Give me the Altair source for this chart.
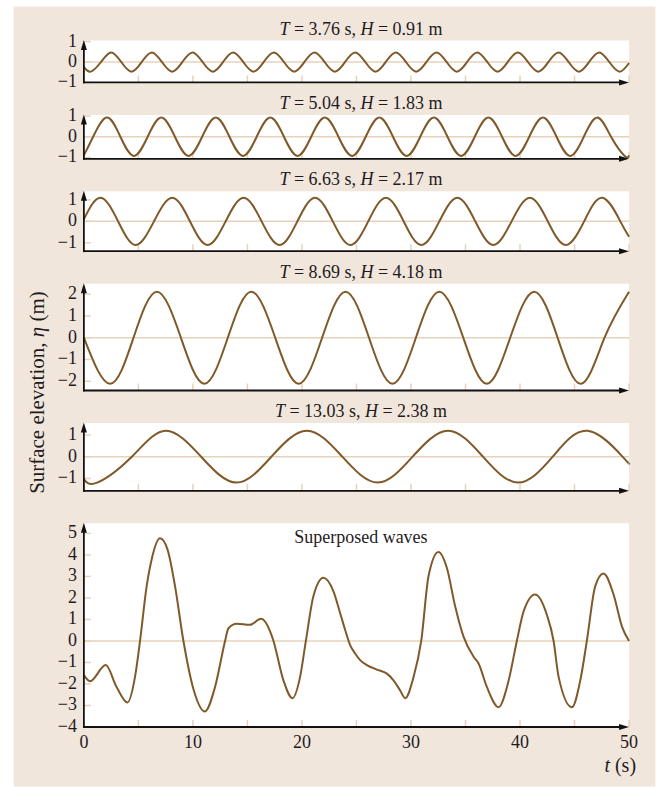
import altair as alt
import pandas as pd

# ---------------- data ----------------
WAVE_PERIOD_LABELS = ["3.76", "5.04", "6.63", "8.69", "13.03"]
WAVE_HEIGHT_LABELS = ["0.91", "1.83", "2.17", "4.18", "2.38"]

# key points (extrema and zero crossings) of each component wave
W1_T = [0, 0.635, 1.57, 2.50, 3.43, 4.37, 5.30, 6.23, 7.16, 8.10, 9.03, 9.96, 10.89,
        11.83, 12.76, 13.69, 14.62, 15.56, 16.49, 17.42, 18.35, 19.29, 20.22, 21.15, 22.08,
        23.02, 23.95, 24.88, 25.81, 26.75, 27.68, 28.61, 29.54, 30.48, 31.41, 32.34, 33.27,
        34.21, 35.14, 36.07, 37.00, 37.94, 38.87, 39.80, 40.73, 41.67, 42.60, 43.53, 44.46,
        45.40, 46.33, 47.26, 48.19, 49.13, 50]
W1_ETA = [-0.24, -0.47, 0, 0.47, 0, -0.47, 0, 0.47, 0, -0.47, 0, 0.47, 0,
          -0.47, 0, 0.47, 0, -0.47, 0, 0.47, 0, -0.47, 0, 0.47, 0,
          -0.47, 0, 0.47, 0, -0.47, 0, 0.47, 0, -0.47, 0, 0.47, 0,
          -0.47, 0, 0.47, 0, -0.47, 0, 0.47, 0, -0.47, 0, 0.47, 0,
          -0.47, 0, 0.47, 0, -0.47, -0.05]

W2_T = [0, 0.85, 2.1, 3.35, 4.6, 5.85, 7.1, 8.35, 9.6, 10.85, 12.1, 13.35, 14.6,
        15.85, 17.1, 18.35, 19.6, 20.85, 22.1, 23.35, 24.6, 25.85, 27.1, 28.35, 29.6,
        30.85, 32.1, 33.35, 34.6, 35.85, 37.1, 38.35, 39.6, 40.85, 42.1, 43.35, 44.6,
        45.85, 47.1, 48.35, 49.6, 50]
W2_ETA = [-0.9, 0, 0.93, 0, -0.93, 0, 0.93, 0, -0.93, 0, 0.93, 0, -0.93,
          0, 0.93, 0, -0.93, 0, 0.93, 0, -0.93, 0, 0.93, 0, -0.93,
          0, 0.93, 0, -0.93, 0, 0.93, 0, -0.93, 0, 0.93, 0, -0.93,
          0, 0.93, 0, -0.93, -0.9]

W3_T = [0, 1.53, 3.14, 4.75, 6.43, 8.1, 9.73, 11.35, 13.0, 14.65, 16.3, 17.95, 19.58,
        21.2, 22.83, 24.45, 26.08, 27.7, 29.33, 30.95, 32.6, 34.25, 35.9, 37.55, 39.23,
        40.9, 42.55, 44.2, 45.88, 47.55, 49.2, 50]
W3_ETA = [0.1, 1.1, 0, -1.1, 0, 1.1, 0, -1.1, 0, 1.1, 0, -1.1, 0,
          1.1, 0, -1.1, 0, 1.1, 0, -1.1, 0, 1.1, 0, -1.1, 0,
          1.1, 0, -1.1, 0, 1.1, 0, -0.72]

W4_T = [0, 2.4, 4.55, 6.7, 8.9, 11.05, 13.2, 15.35, 17.55, 19.7, 21.85, 24.0, 26.15,
        28.3, 30.45, 32.6, 34.8, 36.95, 39.1, 41.3, 43.45, 45.6, 47.75, 50]
W4_ETA = [0, -2.12, 0, 2.12, 0, -2.12, 0, 2.12, 0, -2.12, 0, 2.12, 0,
          -2.12, 0, 2.12, 0, -2.12, 0, 2.12, 0, -2.12, 0, 2.12]

W5_T = [0, 1.22, 4.4, 7.5, 10.75, 14.0, 17.2, 20.45, 23.7, 26.95, 30.15, 33.4, 36.6,
        39.8, 43.0, 46.2, 49.4, 50]
W5_ETA = [-1.03, -1.19, 0, 1.19, 0, -1.19, 0, 1.19, 0, -1.19, 0, 1.19, 0,
          -1.19, 0, 1.19, 0, -0.3]

# superposed record
SUP_T = [0, 0.57, 2.0, 3.0, 3.99, 4.69, 5.15, 5.76, 6.22, 6.99, 7.66, 8.36, 9.13,
         10.04, 11.1, 12.03, 12.95, 13.26, 14.02, 15.24, 16.25, 17.08, 17.39, 18.3,
         19.13, 19.83, 20.36, 21.05, 21.97, 22.89, 23.5, 23.96, 24.42, 24.88, 25.34,
         25.96, 26.87, 27.79, 28.4, 29.01, 29.47, 30.24, 30.94, 31.61, 32.52, 33.29,
         34.05, 34.82, 35.74, 36.2, 36.96, 38.03, 38.96, 39.71, 40.33, 41.39, 42.46,
         43.08, 43.54, 44.76, 45.53, 46.13, 46.9, 47.66, 48.58, 49.35, 50]
SUP_ETA = [-1.59, -1.87, -1.12, -2.14, -2.86, -1.67, 0, 2.55, 3.8, 4.77, 4.27, 2.55, 0,
           -2.22, -3.28, -2.14, 0, 0.59, 0.8, 0.75, 1.03, 0.45, 0, -1.83,
           -2.66, -1.67, 0, 2.08, 2.94, 2.31, 1.3, 0.52, -0.19, -0.58, -0.89,
           -1.12, -1.33, -1.52, -1.83, -2.3, -2.66, -1.67, 0, 3.02, 4.14, 3.4,
           1.61, 0.2, -0.73, -1.05, -2.14, -3.08, -1.83, 0, 1.375, 2.16, 1.22,
           0, -1.67, -3.08, -1.83, 0, 2.55, 3.14, 2.16, 0.67, 0]

X_TICK_VALUES = [0, 5, 10, 15, 20, 25, 30, 35, 40, 45, 50]
X_LABEL_VALUES = [0, 10, 20, 30, 40, 50]
Y_TICK_VALUES = [[-1, 0, 1], [-1, 0, 1], [-1, 0, 1], [-2, -1, 0, 1, 2], [-1, 0, 1],
                 [-4, -3, -2, -1, 0, 1, 2, 3, 4, 5]]

# ---------------- style / layout ----------------
FONT = "Liberation Serif"
BROWN = "#7f5929"
BEIGE = "#f0e6dc"
GRID = "#e6d2bb"
INK = "#1f1b1c"
AXIS = "#111111"
TICK_FONT_SIZE = 18

PLOT_W = 546
PANEL_H = [42, 44, 60, 107, 68, 204]
Y_DOMAIN = [(-1.0, 1.05), (-1.07, 1.06), (-1.39, 1.40), (-2.43, 2.49), (-1.57, 1.55), (-4.0, 5.47)]
GAP = 32.5
TITLE_CX = 277.5

DUMMY = pd.DataFrame({"d": [0]})

REG_W = {" ": 0.25, ".": 0.25, ",": 0.25, "=": 0.564, "s": 0.389, "m": 0.778, "(": 0.333,
         ")": 0.333, "S": 0.556, "u": 0.5, "r": 0.333, "f": 0.333, "a": 0.444, "c": 0.444,
         "e": 0.444, "l": 0.278, "v": 0.5, "t": 0.278, "i": 0.278, "o": 0.5, "n": 0.5,
         "T": 0.611, "H": 0.722}
ITA_W = {"T": 0.556, "H": 0.722, "t": 0.278, "η": 0.5}


def num_label(v):
    return ("\u2212" + str(abs(v))) if v < 0 else str(v)


def tw(s, size, italic=False):
    tbl = ITA_W if italic else REG_W
    return sum(tbl.get(c, REG_W.get(c, 0.5)) for c in s) * size


def seg_text(text, italic, size, x, y, align="left", angle=None):
    kw = dict(text=text, font=FONT, fontSize=size,
              fontStyle="italic" if italic else "normal",
              align=align, baseline="alphabetic", color=INK)
    if angle is not None:
        kw["angle"] = angle
    return alt.Chart(DUMMY).mark_text(**kw).encode(x=alt.value(x), y=alt.value(y))


def hparts(parts, cx, y, size):
    sp = tw(" ", size)
    widths = [tw(s, size, it) for s, it in parts]
    total = sum(widths) + sp * (len(parts) - 1)
    x = cx - total / 2
    out = []
    for (s, it), w in zip(parts, widths):
        out.append(seg_text(s, it, size, x, y))
        x += w + sp
    return out


def vparts(parts, x, cy, size):
    sp = tw(" ", size)
    widths = [tw(s, size, it) for s, it in parts]
    total = sum(widths) + sp * (len(parts) - 1)
    y = cy + total / 2
    out = []
    for (s, it), w in zip(parts, widths):
        out.append(seg_text(s, it, size, x, y, angle=270))
        y -= w + sp
    return out


def panel(i, t, eta, interp, extra=None, x_labels=False, first=False, title_idx=None):
    h = PANEL_H[i]
    lo, hi = Y_DOMAIN[i]
    xs = alt.Scale(domain=[0, 50], nice=False, zero=False)
    ys = alt.Scale(domain=[lo, hi], nice=False, zero=False)
    layers = []
    if first:
        layers.append(alt.Chart(DUMMY).mark_rect(color=BEIGE).encode(
            x=alt.value(-70.3), x2=alt.value(572.4), y=alt.value(-34), y2=alt.value(747)))
        layers.append(alt.Chart(DUMMY).mark_rect(color="white").encode(
            x=alt.value(0), x2=alt.value(PLOT_W), y=alt.value(0), y2=alt.value(h)))
    # zero line
    layers.append(alt.Chart(pd.DataFrame({"z": [0]})).mark_rule(color=GRID, strokeWidth=1.5).encode(
        y=alt.Y("z:Q", scale=ys, axis=None)))
    # inward ticks
    ytick_df = pd.DataFrame({"v": Y_TICK_VALUES[i],
                             "lab": [num_label(v) for v in Y_TICK_VALUES[i]]})
    layers.append(alt.Chart(ytick_df).mark_rule(color=GRID, strokeWidth=1.5).encode(
        y=alt.Y("v:Q", scale=ys, axis=None), x=alt.value(0), x2=alt.value(7)))
    layers.append(alt.Chart(pd.DataFrame({"u": X_TICK_VALUES})).mark_rule(color=GRID, strokeWidth=1.5).encode(
        x=alt.X("u:Q", scale=xs, axis=None), y=alt.value(h), y2=alt.value(h - 7)))
    # y tick labels
    layers.append(alt.Chart(ytick_df).mark_text(font=FONT, fontSize=TICK_FONT_SIZE, color=INK, align="right",
                                                baseline="middle", dx=-7).encode(
        y=alt.Y("v:Q", scale=ys, axis=None), x=alt.value(0), text="lab:N"))
    if x_labels:
        xl_df = pd.DataFrame({"xl": X_LABEL_VALUES, "lab": [num_label(v) for v in X_LABEL_VALUES]})
        layers.append(alt.Chart(xl_df).mark_text(
            font=FONT, fontSize=TICK_FONT_SIZE, color=INK, align="center", baseline="top", dy=7).encode(
            x=alt.X("xl:Q", scale=xs, axis=None), y=alt.value(h), text="lab:N"))
    # the wave
    df = pd.DataFrame({"t": t, "eta": eta})
    layers.append(alt.Chart(df).mark_line(color=BROWN, strokeWidth=2, interpolate=interp).encode(
        x=alt.X("t:Q", scale=xs, axis=None),
        y=alt.Y("eta:Q", scale=ys, axis=None)))
    # axis lines with arrow heads
    layers.append(alt.Chart(DUMMY).mark_rule(color=AXIS, strokeWidth=1.8).encode(
        x=alt.value(0), y=alt.value(3), y2=alt.value(h + 0.9)))
    layers.append(alt.Chart(DUMMY).mark_rule(color=AXIS, strokeWidth=1.8).encode(
        y=alt.value(h), x=alt.value(-0.9), x2=alt.value(PLOT_W - 6)))
    layers.append(alt.Chart(DUMMY).mark_point(shape="M0,-1L0.6,1L-0.6,1Z", filled=True, size=100,
                                              color=AXIS, opacity=1, strokeWidth=0).encode(
        x=alt.value(0), y=alt.value(4.5)))
    layers.append(alt.Chart(DUMMY).mark_point(shape="M1,0L-1,-0.6L-1,0.6Z", filled=True, size=100,
                                              color=AXIS, opacity=1, strokeWidth=0).encode(
        x=alt.value(PLOT_W - 5), y=alt.value(h)))
    if title_idx is not None:
        parts = [("T", True), ("= " + WAVE_PERIOD_LABELS[title_idx] + " s,", False),
                 ("H", True), ("= " + WAVE_HEIGHT_LABELS[title_idx] + " m", False)]
        layers += hparts(parts, TITLE_CX, -6, 18)
    if extra:
        layers += extra
    return alt.layer(*layers).properties(width=PLOT_W, height=h)


ylabel = vparts([("Surface elevation,", False), ("η", True), ("(m)", False)], -39.8, 109, 21)

xlabel_size = 20
x_s_right = PLOT_W + 7
s_w = tw("(s)", xlabel_size)
xlabel = [
    seg_text("(s)", False, xlabel_size, x_s_right - s_w, PANEL_H[5] + 45.5),
    seg_text("t", True, xlabel_size, x_s_right - s_w - tw(" ", xlabel_size) - tw("t", xlabel_size, True),
             PANEL_H[5] + 45.5),
    seg_text("Superposed waves", False, 18, TITLE_CX, 19.8, align="center"),
]

p1 = panel(0, W1_T, W1_ETA, "natural", first=True, title_idx=0)
p2 = panel(1, W2_T, W2_ETA, "natural", title_idx=1)
p3 = panel(2, W3_T, W3_ETA, "natural", title_idx=2)
p4 = panel(3, W4_T, W4_ETA, "natural", extra=ylabel, title_idx=3)
p5 = panel(4, W5_T, W5_ETA, "natural", title_idx=4)
p6 = panel(5, SUP_T, SUP_ETA, "monotone", extra=xlabel, x_labels=True)

chart = alt.vconcat(p1, p2, p3, p4, p5, p6, spacing=GAP, bounds="flush").properties(
    padding={"left": 13, "top": 6, "right": 4, "bottom": 0},
    background="white",
).configure_view(fill="white", strokeWidth=0)

chart.save("out.html", embed_options={"renderer": "svg", "actions": False})
